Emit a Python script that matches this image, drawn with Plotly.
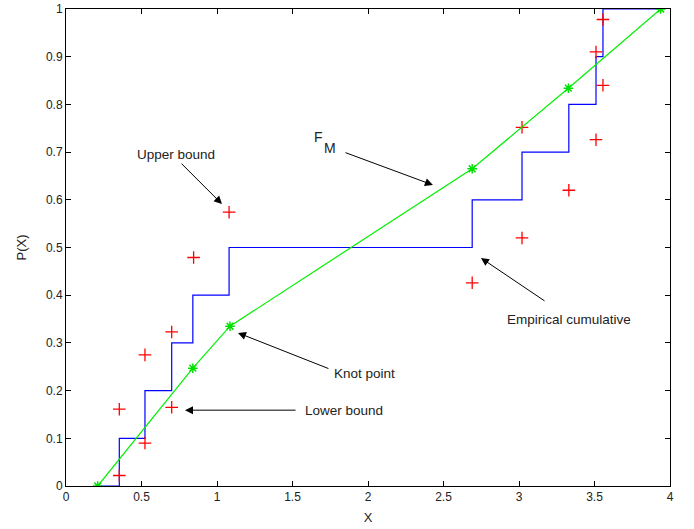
import plotly.graph_objects as go

# Empirical cumulative (step) data
emp_x = [0.21, 0.353, 0.523, 0.70, 0.84, 1.08, 2.69, 3.02, 3.33, 3.51, 3.556, 3.94]
emp_y = [0.0, 0.1, 0.2, 0.3, 0.4, 0.5, 0.6, 0.7, 0.8, 0.9, 1.0, 1.0]

# Knot points of F_M
knot_x = [0.21, 0.84, 1.086, 2.69, 3.327, 3.938]
knot_y = [0.0, 0.247, 0.335, 0.665, 0.834, 1.0]

# Upper and lower bounds
upper_x = [0.353, 0.523, 0.70, 0.845, 1.08, 3.02, 3.51, 3.556]
upper_y = [0.161, 0.275, 0.323, 0.479, 0.574, 0.752, 0.91, 0.978]
lower_x = [0.353, 0.523, 0.70, 2.69, 3.02, 3.33, 3.51, 3.556]
lower_y = [0.022, 0.09, 0.165, 0.426, 0.52, 0.62, 0.726, 0.84]

x_ticks = [0, 0.5, 1, 1.5, 2, 2.5, 3, 3.5, 4]
x_tick_labels = ["0", "0.5", "1", "1.5", "2", "2.5", "3", "3.5", "4"]
y_ticks = [0, 0.1, 0.2, 0.3, 0.4, 0.5, 0.6, 0.7, 0.8, 0.9, 1]
y_tick_labels = ["0", "0.1", "0.2", "0.3", "0.4", "0.5", "0.6", "0.7", "0.8", "0.9", "1"]

FONT = "Liberation Sans, Arial, Helvetica, sans-serif"
TXT = "#222222"

fig = go.Figure()
fig.add_trace(go.Scatter(x=emp_x, y=emp_y, mode="lines", line_shape="hv",
                         line=dict(color="#0000ff", width=1.2), showlegend=False,
                         hoverinfo="skip"))
for bx, by in [(upper_x, upper_y), (lower_x, lower_y)]:
    fig.add_trace(go.Scatter(x=bx, y=by, mode="markers",
                             marker=dict(symbol="cross-thin-open", size=9, color="#ff0000",
                                         line=dict(color="#ff0000", width=1.3)),
                             showlegend=False, hoverinfo="skip"))
fig.add_trace(go.Scatter(x=knot_x, y=knot_y, mode="lines+markers",
                         line=dict(color="#00f000", width=1.2),
                         marker=dict(symbol="asterisk-open", size=8, color="#00e000",
                                     line=dict(color="#00e000", width=1.5)),
                         showlegend=False, hoverinfo="skip"))

# arrows: (tip_x, tip_y, tail_x, tail_y)
arrows = [
    (1.033, 0.591, 0.755, 0.679),
    (2.430, 0.631, 1.841, 0.700),
    (2.748, 0.478, 3.179, 0.386),
    (1.139, 0.321, 1.748, 0.245),
    (0.788, 0.159, 1.530, 0.159),
]
for tx, ty, ax, ay in arrows:
    fig.add_annotation(x=tx, y=ty, ax=ax, ay=ay, xref="x", yref="y",
                       axref="x", ayref="y", text="", showarrow=True,
                       arrowhead=2, arrowsize=1.6, arrowwidth=1, arrowcolor="black")

labels = [
    (0.728, 0.696, "Upper bound", "center", 13.5),
    (1.669, 0.732, "F", "center", 14),
    (1.745, 0.709, "M", "center", 14),
    (3.331, 0.350, "Empirical cumulative", "center", 13.5),
    (1.760, 0.235, "Knot point", "left", 13.5),
    (1.570, 0.159, "Lower bound", "left", 13.5),
]
for lx, ly, txt, al, fs in labels:
    fig.add_annotation(x=lx, y=ly, xref="x", yref="y", text=txt, showarrow=False,
                       xanchor=al, font=dict(family=FONT, size=fs, color=TXT))

axis_common = dict(showgrid=False, zeroline=False, showline=True, linecolor="black",
                   linewidth=1, mirror="ticks", ticks="inside", ticklen=5,
                   tickcolor="black", automargin=False,
                   tickfont=dict(family=FONT, size=12, color=TXT))
fig.update_xaxes(range=[0, 4], tickvals=x_ticks, ticktext=x_tick_labels,
                 title=dict(text="X", font=dict(family=FONT, size=13, color=TXT), standoff=9),
                 **axis_common)
fig.update_yaxes(range=[0, 1], tickvals=y_ticks, ticktext=y_tick_labels,
                 title=dict(text="P(X)", font=dict(family=FONT, size=13, color=TXT), standoff=16),
                 **axis_common)
fig.update_layout(width=694, height=529, plot_bgcolor="white", paper_bgcolor="white",
                  margin=dict(l=66, r=24, t=9, b=43, pad=0), showlegend=False,
                  hovermode=False)

fig.write_html("out.html", config={"displayModeBar": False},
               post_script="document.body.style.margin='0';document.body.style.overflow='hidden';")
